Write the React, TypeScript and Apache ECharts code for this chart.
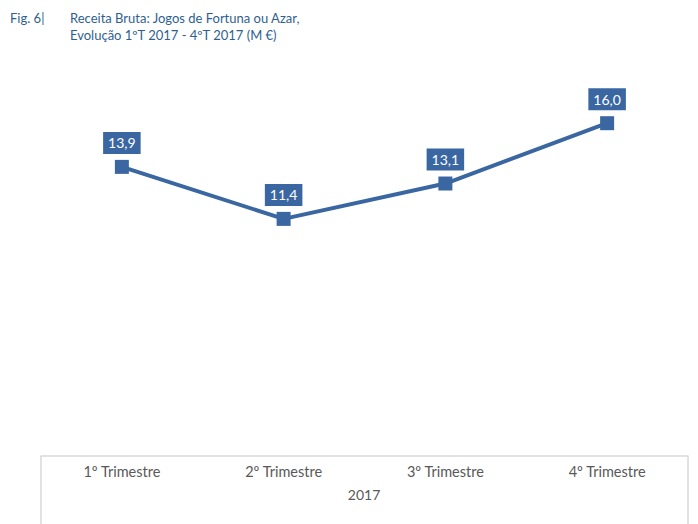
import React, { useEffect, useRef } from "react";
import * as echarts from "echarts";

const categories = ["1º Trimestre", "2º Trimestre", "3º Trimestre", "4º Trimestre"];
const values = [13.9, 11.4, 13.1, 16.0];
const yearLabel = "2017";
const figLabel = "Fig. 6|";
const titleLines = ["Receita Bruta: Jogos de Fortuna ou Azar,", "Evolução 1ºT 2017 - 4ºT 2017 (M €)"];

const BLUE = "#3A67A2";
const FONT = "Lato, 'Open Sans', sans-serif";

export default function App() {
  const ref = useRef<HTMLDivElement>(null);
  useEffect(() => {
    if (!ref.current) return;
    const chart = echarts.init(ref.current, null, { renderer: "svg" });
    chart.setOption({
      animation: false,
      backgroundColor: "#ffffff",
      textStyle: { fontFamily: FONT },
      grid: { left: 41, right: 10, top: 40, bottom: 68 },
      xAxis: {
        type: "category",
        data: categories,
        boundaryGap: true,
        axisLine: { show: true, lineStyle: { color: "#d9d9d9", width: 1.5 } },
        axisTick: { show: false },
        axisLabel: { color: "#595959", fontSize: 14.5, margin: 8, fontFamily: FONT },
      },
      yAxis: {
        type: "value",
        min: 0,
        max: 20,
        show: false,
        splitLine: { show: false },
      },
      series: [
        {
          type: "line",
          data: values,
          symbol: "rect",
          symbolSize: 14,
          lineStyle: { color: BLUE, width: 4 },
          itemStyle: { color: BLUE },
          label: {
            show: true,
            position: "top",
            distance: 6,
            formatter: (p: any) => p.value.toFixed(1).replace(".", ","),
            color: "#ffffff",
            fontSize: 14,
            fontFamily: FONT,
            backgroundColor: BLUE,
            padding: [4, 5, 4, 5],
          },
        },
      ],
      graphic: [
        { type: "line", shape: { x1: 41, y1: 456, x2: 41, y2: 524 }, style: { stroke: "#d9d9d9", lineWidth: 1.5 } },
        { type: "line", shape: { x1: 688, y1: 456, x2: 688, y2: 524 }, style: { stroke: "#d9d9d9", lineWidth: 1.5 } },
        {
          type: "text",
          x: 364,
          y: 494,
          style: { text: yearLabel, fill: "#595959", font: `14px ${FONT}`, textAlign: "center", textVerticalAlign: "middle" },
        },
        {
          type: "text",
          x: 10,
          y: 18,
          style: { text: figLabel, fill: "#2F5F8F", font: `13px ${FONT}`, textVerticalAlign: "middle" },
        },
        {
          type: "text",
          x: 70,
          y: 18,
          style: { text: titleLines[0], fill: "#2F5F8F", font: `13px ${FONT}`, textVerticalAlign: "middle" },
        },
        {
          type: "text",
          x: 70,
          y: 35,
          style: { text: titleLines[1], fill: "#2F5F8F", font: `13px ${FONT}`, textVerticalAlign: "middle" },
        },
      ],
    });
    return () => chart.dispose();
  }, []);
  return <div ref={ref} style={{ position: "fixed", left: 0, top: 0, width: 698, height: 524 }} />;
}
